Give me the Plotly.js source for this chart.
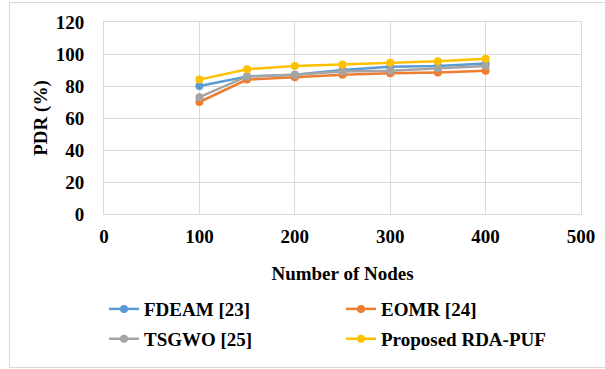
<!DOCTYPE html>
<html>
<head>
<meta charset="utf-8">
<script src="https://cdn.plot.ly/plotly-3.0.1.min.js"></script>
<style>
html,body{margin:0;padding:0;background:#fff;}
#wrap{position:relative;width:605px;height:369px;}
#chart{width:605px;height:369px;}
#frame{position:absolute;left:9px;top:2px;width:610px;height:364px;border:1px solid #d9d9d9;pointer-events:none;}
</style>
</head>
<body>
<div id="wrap"><div id="chart"></div><div id="frame"></div></div>
<script>
const nodes = [100, 150, 200, 250, 300, 350, 400];
const fdeam = [80, 86, 87, 90, 92, 92.5, 94];
const eomr = [70, 84, 85.5, 87, 88, 88.5, 89.5];
const tsgwo = [73, 86, 87, 89, 89.5, 91, 92.5];
const proposed = [84, 90.5, 92.5, 93.5, 94.5, 95.5, 97];
const seriesNames = ['FDEAM [23]', 'EOMR [24]', 'TSGWO [25]', 'Proposed RDA-PUF'];
const seriesColors = ['#5B9BD5', '#ED7D31', '#A5A5A5', '#FFC000'];
const seriesData = [fdeam, eomr, tsgwo, proposed];
const legendOf = ['legend', 'legend', 'legend2', 'legend2'];

const font = {family: 'Liberation Serif, Times New Roman, serif', size: 19, color: '#000', weight: 'bold'};

const traces = seriesData.map((ys, i) => ({
  x: nodes, y: ys, type: 'scatter', mode: 'lines+markers',
  name: seriesNames[i],
  line: {color: seriesColors[i], width: 2.5},
  marker: {color: seriesColors[i], size: 8},
  legend: legendOf[i]
}));

const legendCommon = {
  orientation: 'h', xref: 'paper', yref: 'paper', xanchor: 'left', yanchor: 'middle',
  entrywidth: 192, entrywidthmode: 'pixels', font: font, bgcolor: 'rgba(0,0,0,0)',
  itemwidth: 30, traceorder: 'normal'
};

const layout = {
  width: 605, height: 369,
  margin: {l: 104, r: 24, t: 22, b: 155},
  paper_bgcolor: '#fff', plot_bgcolor: '#fff',
  showlegend: true,
  font: font,
  xaxis: {
    range: [0, 500], dtick: 100, tick0: 0,
    showgrid: true, gridcolor: '#d9d9d9', gridwidth: 1,
    showline: true, linecolor: '#d9d9d9', mirror: true, zeroline: false,
    ticks: '', tickfont: font, ticklabelstandoff: 5,
    title: {text: 'Number of Nodes', font: font, standoff: 20}
  },
  yaxis: {
    range: [0, 120], dtick: 20, tick0: 0,
    showgrid: true, gridcolor: '#d9d9d9', gridwidth: 1,
    showline: true, linecolor: '#d9d9d9', mirror: true, zeroline: false,
    ticks: '', tickfont: font, ticklabelstandoff: 15,
    title: {text: 'PDR (%)', font: font, standoff: 3}
  },
  legend: Object.assign({}, legendCommon, {x: 0, y: -0.495}),
  legend2: Object.assign({}, legendCommon, {x: 0, y: -0.65})
};

Plotly.newPlot('chart', traces, layout, {displayModeBar: false, staticPlot: true});
</script>
</body>
</html>
